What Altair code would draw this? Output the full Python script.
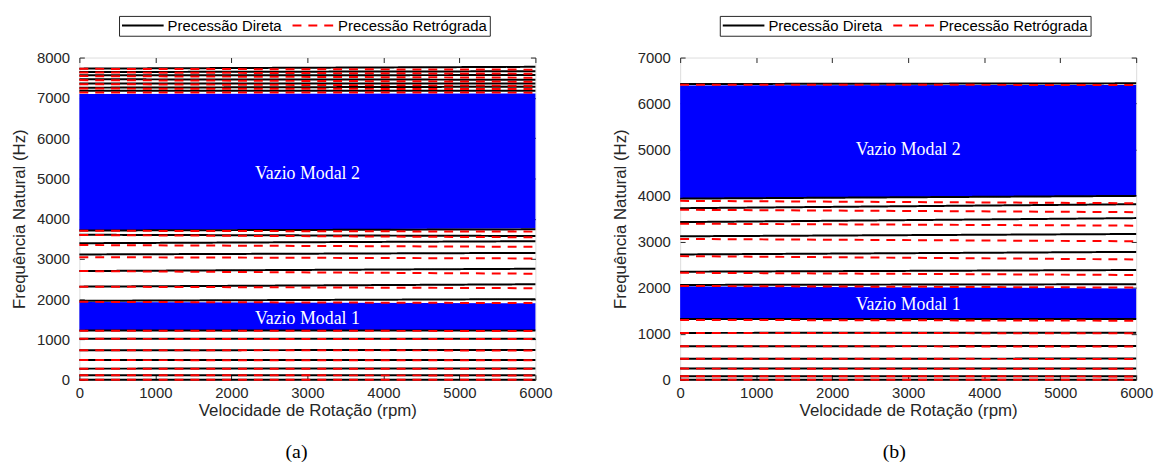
import altair as alt
import pandas as pd

rpm = [0, 6000]
x_ticks = [0, 1000, 2000, 3000, 4000, 5000, 6000]
series_names = ["Precessão Direta", "Precessão Retrógrada"]
gap_names = ["Vazio Modal 1", "Vazio Modal 2"]

# ---- panel (a) ----
a_y_ticks = [0, 1000, 2000, 3000, 4000, 5000, 6000, 7000, 8000]
a_dir_start = [0, 110, 276, 488, 734, 1016, 1220, 1960, 2312, 2699, 3111, 3390, 3600, 3705, 7178, 7252, 7358, 7460, 7560, 7640, 7725]
a_dir_end = [0, 112, 280, 492, 738, 1020, 1224, 2002, 2371, 2756, 3150, 3440, 3569, 3735, 7178, 7277, 7358, 7450, 7565, 7660, 7770]
a_ret_start = [0, 110, 276, 488, 734, 1016, 1218, 1935, 2312, 2699, 3044, 3345, 3594, 3700, 7135, 7230, 7340, 7440, 7540, 7630, 7720]
a_ret_end = [0, 108, 272, 484, 728, 1010, 1212, 1903, 2273, 2633, 3012, 3300, 3537, 3678, 7129, 7218, 7300, 7400, 7500, 7600, 7700]
a_gap_lo_start = [1222, 3715]
a_gap_lo_end = [1226, 3760]
a_gap_hi_start = [1930, 7095]
a_gap_hi_end = [1900, 7110]
a_gap_label_hz = [1500, 5100]

# ---- panel (b) ----
b_y_ticks = [0, 1000, 2000, 3000, 4000, 5000, 6000, 7000]
b_dir_start = [0, 75, 242, 457, 729, 1018, 1320, 2060, 2347, 2722, 3117, 3425, 3727, 3935, 6425]
b_dir_end = [0, 78, 245, 460, 732, 1022, 1322, 2075, 2384, 2778, 3167, 3512, 3814, 3995, 6440]
b_ret_start = [0, 75, 242, 457, 729, 1018, 1300, 2038, 2325, 2686, 3059, 3391, 3693, 3887, 6410]
b_ret_end = [0, 73, 238, 452, 722, 1010, 1283, 2002, 2276, 2614, 3009, 3348, 3641, 3835, 6405]
b_gap_lo_start = [1322, 3940]
b_gap_lo_end = [1322, 4000]
b_gap_hi_start = [2030, 6395]
b_gap_hi_end = [1985, 6405]
b_gap_label_hz = [1620, 5000]

SANS = "Liberation Sans"
SERIF = "Liberation Serif"
INK = "#262626"


def panel(dir_s, dir_e, ret_s, ret_e, lo_s, lo_e, hi_s, hi_e, lab_hz, y_ticks, tag, dx):
    rows = []
    for i, (s, e) in enumerate(zip(dir_s, dir_e)):
        rows.append({"id": f"d{i}", "type": series_names[0], "rpm": rpm[0], "hz": s})
        rows.append({"id": f"d{i}", "type": series_names[0], "rpm": rpm[1], "hz": e})
    for i, (s, e) in enumerate(zip(ret_s, ret_e)):
        rows.append({"id": f"r{i}", "type": series_names[1], "rpm": rpm[0], "hz": s})
        rows.append({"id": f"r{i}", "type": series_names[1], "rpm": rpm[1], "hz": e})
    lines_df = pd.DataFrame(rows)

    brows = []
    for g in range(len(gap_names)):
        brows.append({"gap": gap_names[g], "rpm": rpm[0], "lo": lo_s[g], "hi": hi_s[g]})
        brows.append({"gap": gap_names[g], "rpm": rpm[1], "lo": lo_e[g], "hi": hi_e[g]})
    band_df = pd.DataFrame(brows)

    lab_df = pd.DataFrame({"name": gap_names,
                           "rpm": [(rpm[0] + rpm[1]) / 2] * len(gap_names),
                           "hz": lab_hz})

    xs = alt.Scale(domain=[rpm[0], rpm[1]], nice=False)
    ys = alt.Scale(domain=[y_ticks[0], y_ticks[-1]], nice=False)

    x_bottom = alt.Axis(orient="bottom", values=x_ticks, format="d", offset=-5, tickSize=5,
                        domain=False, grid=False, labelFlush=False, labelOverlap=False,
                        labelFont=SANS, labelFontSize=15, labelPadding=6, labelColor=INK,
                        tickColor=INK, title="Velocidade de Rotação (rpm)", titleFont=SANS,
                        titleFontSize=17, titleFontWeight="normal", titleColor=INK, titlePadding=2)
    y_left = alt.Axis(orient="left", values=y_ticks, format="d", offset=-5, tickSize=5,
                      domain=False, grid=False, labelFlush=False, labelOverlap=False,
                      labelFont=SANS, labelFontSize=15, labelPadding=10, labelColor=INK,
                      tickColor=INK, title="Frequência Natural (Hz)", titleFont=SANS,
                      titleFontSize=17, titleFontWeight="normal", titleColor=INK, titlePadding=8)
    x_top = alt.Axis(orient="top", values=x_ticks, offset=-5, tickSize=5, domain=False,
                     grid=False, labels=False, tickColor=INK, title=None)
    y_right = alt.Axis(orient="right", values=y_ticks, offset=-5, tickSize=5, domain=False,
                       grid=False, labels=False, tickColor=INK, title=None)

    area = alt.Chart(band_df).mark_area(color="#0000ff", opacity=1).encode(
        x=alt.X("rpm:Q", scale=xs, axis=x_bottom),
        y=alt.Y("lo:Q", scale=ys, axis=y_left),
        y2="hi:Q",
        detail="gap:N",
    )
    text = alt.Chart(lab_df).mark_text(font=SERIF, fontSize=18, color="white").encode(
        x=alt.X("rpm:Q", scale=xs),
        y=alt.Y("hz:Q", scale=ys),
        text="name:N",
    )
    leg = alt.Legend(orient="none", legendX=40, legendY=-42, direction="horizontal",
                     title=None, symbolType="stroke", symbolSize=1764, symbolStrokeWidth=2,
                     clipHeight=15,
                     labelFont=SANS, labelFontSize=15, labelColor="black", labelOffset=3,
                     labelLimit=400, columnPadding=9, padding=2, strokeColor=INK,
                     fillColor="white")
    lines = alt.Chart(lines_df).mark_line(strokeWidth=2).encode(
        x=alt.X("rpm:Q", scale=xs, axis=x_top),
        y=alt.Y("hz:Q", scale=ys, axis=y_right),
        color=alt.Color("type:N", scale=alt.Scale(domain=series_names, range=["#000000", "#ff0000"]), legend=leg),
        strokeDash=alt.StrokeDash("type:N", scale=alt.Scale(domain=series_names, range=[[1, 0], [9, 7]]), legend=leg),
        detail="id:N",
        order=alt.Order("type:N"),
    )
    base = alt.layer(area, text)
    return alt.layer(base, lines).resolve_axis(x="independent", y="independent").properties(
        width=460, height=325,
        title=alt.TitleParams(tag, orient="bottom", anchor="middle", frame="group", font=SERIF,
                              fontSize=20, fontWeight="normal", color="black", offset=24, dx=dx),
    )


left = panel(a_dir_start, a_dir_end, a_ret_start, a_ret_end, a_gap_lo_start, a_gap_lo_end,
             a_gap_hi_start, a_gap_hi_end, a_gap_label_hz, a_y_ticks, "(a)", -11)
right = panel(b_dir_start, b_dir_end, b_ret_start, b_ret_end, b_gap_lo_start, b_gap_lo_end,
              b_gap_hi_start, b_gap_hi_end, b_gap_label_hz, b_y_ticks, "(b)", -14)

chart = alt.hconcat(left, right, spacing=58).resolve_scale(
    color="independent", strokeDash="independent"
).resolve_legend(color="independent", strokeDash="independent").properties(
    padding={"left": 2, "top": 5, "right": 2, "bottom": 0}
).configure_view(stroke="#404040", strokeWidth=1).configure(background="white")

chart.save("out.html", embed_options={"renderer": "svg", "actions": False})
